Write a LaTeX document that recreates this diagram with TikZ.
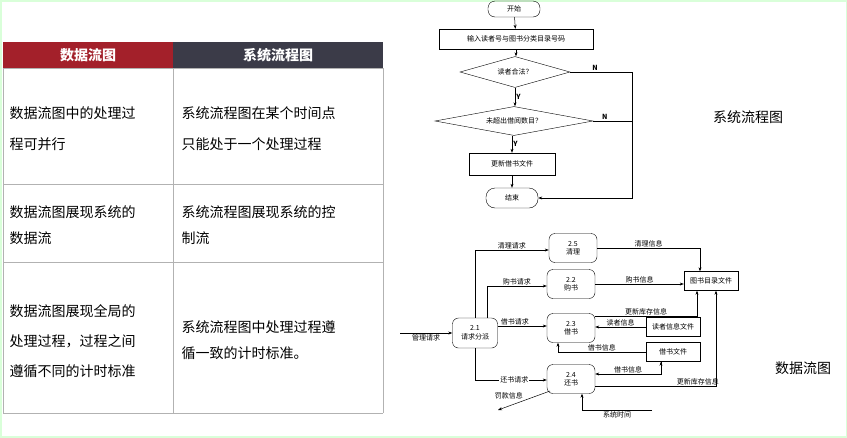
\documentclass[tikz,border=0pt]{standalone}
\usepackage{fontspec}
\setmainfont{Noto Sans CJK SC}
\usetikzlibrary{arrows.meta,shapes.geometric}
\definecolor{hred}{HTML}{A3202A}
\definecolor{hgray}{HTML}{3B3B48}
\begin{document}
\begin{tikzpicture}[x=1pt,y=-1pt,
  cell/.style={anchor=west,font=\fontsize{14}{18}\selectfont,align=left},
  fc/.style={font=\fontsize{7}{8.5}\selectfont},
  term/.style={fc,draw,rounded corners=7pt,minimum width=52pt,minimum height=16pt,inner sep=0},
  pbox/.style={fc,draw,minimum height=20pt,inner sep=0},
  dia/.style={fc,draw,diamond,aspect=3.6,inner sep=0},
  proc/.style={fc,draw,rounded corners=6pt,minimum width=48pt,minimum height=29pt,align=center,inner sep=0},
  file/.style={fc,draw,minimum width=54pt,minimum height=19pt,inner sep=0},
  arr/.style={-{Stealth[length=4pt]},line width=0.5pt},
  lab/.style={fc,inner sep=1pt}]
\useasboundingbox (0,0) rectangle (847,437);
\fill[white] (0,0) rectangle (847,437);
\draw[green!15,line width=3pt] (0,0) rectangle (847,437);
% table
\fill[hred] (3,42) rectangle (173,68);
\fill[hgray] (173,42) rectangle (383,68);
\node[text=white,font=\fontsize{14}{16}\selectfont\bfseries] (h1) at (88,55) {数据流图};
\node[text=white,font=\fontsize{14}{16}\selectfont\bfseries] (h2) at (278,55) {系统流程图};
\draw[gray!60] (3,68) -- (383,68) (3,184) -- (383,184) (3,262) -- (383,262) (3,413) -- (383,413)
 (173,68) -- (173,413) (3,68) -- (3,413) (383,68) -- (383,413);
\node[cell] (a1) at (6,129) {数据流图中的处理过\\[13pt]程可并行};
\node[cell] (b1) at (178,129) {系统流程图在某个时间点\\[13pt]只能处于一个处理过程};
\node[cell] (a2) at (6,225) {数据流图展现系统的\\[8pt]数据流};
\node[cell] (b2) at (178,225) {系统流程图展现系统的控\\[8pt]制流};
\node[cell] (a3) at (6,341) {数据流图展现全局的\\[12pt]处理过程，过程之间\\[12pt]遵循不同的计时标准};
\node[cell] (b3) at (178,340) {系统流程图中处理过程遵\\[8pt]循一致的计时标准。};
% side labels
\node[font=\fontsize{14}{16}\selectfont] (l1) at (748,117) {系统流程图};
\node[font=\fontsize{14}{16}\selectfont] (l2) at (803,368) {数据流图};
% flowchart
\node[term] (st) at (514,9) {开始};
\node[pbox,minimum width=154pt] (in) at (516,39) {输入读者号与图书分类目录号码};
\node[dia,minimum width=110pt,minimum height=31pt] (d1) at (515,72) {读者合法？};
\node[dia,minimum width=158pt,minimum height=29pt] (d2) at (514,121) {未超出借阅数目？};
\node[pbox,minimum width=86pt,minimum height=22pt] (up) at (512,164) {更新借书文件};
\node[term,minimum height=20pt,rounded corners=9pt] (en) at (512,198) {结束};
\coordinate (c1) at (632,72); \coordinate (c2) at (632,198);
\draw[arr] (st) -- (in);
\draw[arr] (in) -- (in.south|-d1.north);
\draw[arr] (d1) -- node[lab,right,font=\fontsize{7}{8}\selectfont\bfseries]{Y} (d1.south|-d2.north);
\draw[arr] (d2.south-|up) -- node[lab,right,font=\fontsize{7}{8}\selectfont\bfseries]{Y} (up);
\draw[arr] (up) -- (en);
\draw (d1.east) -- node[lab,above,pos=0.4,font=\fontsize{7}{8}\selectfont\bfseries]{N} (c1);
\draw (d2.east) -- node[lab,above,pos=0.3,font=\fontsize{7}{8}\selectfont\bfseries]{N} (d2.east-|c1);
\draw[arr] (c1) -- (c2) -- (en);
% DFD
\node[proc] (p25) at (573,248) {2.5\\清理};
\node[proc] (p22) at (571,284) {2.2\\购书};
\node[proc] (p23) at (571,328) {2.3\\借书};
\node[proc] (p24) at (571,379) {2.4\\还书};
\node[proc,minimum width=45pt,minimum height=30pt] (p21) at (475,333) {2.1\\请求分派};
\node[file] (f1) at (711,281) {图书目录文件};
\node[file] (f2) at (673,327) {读者信息文件};
\node[file] (f3) at (673,352) {借书文件};
\coordinate (src) at (400,333);
\draw[arr] (src) -- node[lab,below]{管理请求} (p21);
\draw[arr] (p21.north) -- (475,250) -- node[lab,above]{清理请求} (p25.west|-475,250);
\draw[arr] (487,318) -- (487,286) -- node[lab,above]{购书请求} (p22.west|-487,286);
\draw[arr] (p21.east|-0,326) -- node[lab,above,pos=0.35]{借书请求} (p23.west|-0,326);
\draw[arr] (p21.south) -- (475,380) -- node[lab,pos=0.55,fill=white]{还书请求} (p24.west|-0,380);
\draw[arr] (p25.east) -- node[lab,above]{清理信息} (700,248) -- (f1.north-|700,0);
\draw[arr] (p22.east) -- node[lab,above]{购书信息} (f1.west|-0,284);
\draw[arr] (p23.east|-0,316) -- node[lab,above]{更新库存信息} (697,316) -- (697,0|-f1.south);
\draw[arr] (f2.west) -- node[lab,above]{读者信息} (p23.east|-f2.west);
\draw[arr] (f3.west) -- node[lab,above]{借书信息} (558,352) -- (558,0|-p23.south);
\draw[arr] (661,0|-f3.south) -- (661,374) -- node[lab,above]{借书信息} (p24.east|-0,374);
\draw[arr] (661,374) -- (661,0|-f3.south);
\draw[arr] (p24.east|-0,386) -- node[lab,above,pos=0.85]{更新库存信息} (716,386) -- (716,0|-f1.south);
\coordinate (fine) at (498,410);
\draw[arr] (550,391) -- node[lab,above left,pos=0.5]{罚款信息} (fine);
\coordinate (clk) at (652,410);
\draw[arr] (clk) -- node[lab,below]{系统时间} (582,410) -- (582,0|-p24.south);
\end{tikzpicture}
\end{document}
